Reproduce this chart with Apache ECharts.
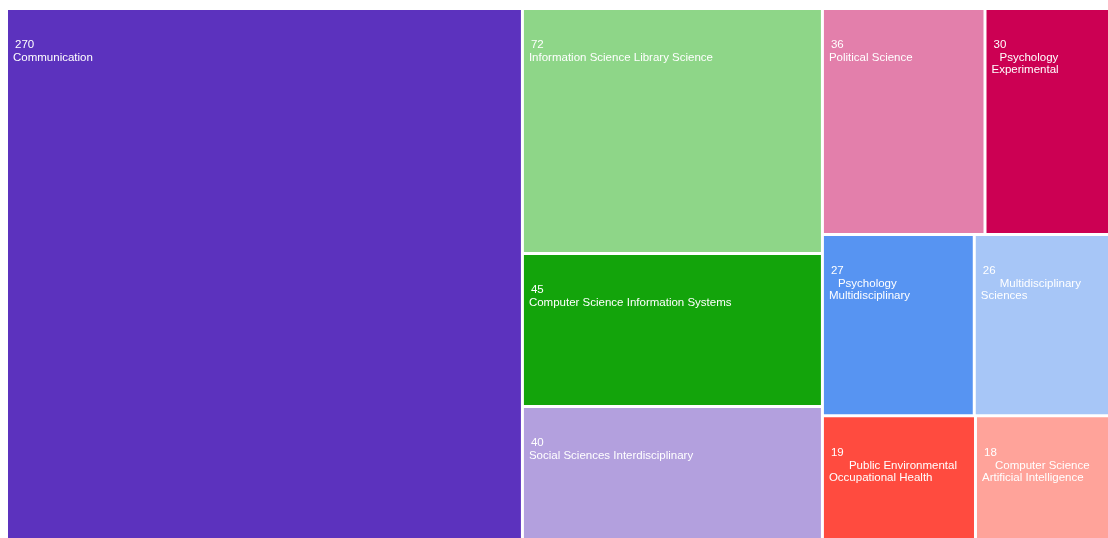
<!DOCTYPE html>
<html><head><meta charset="utf-8">
<script src="https://cdn.jsdelivr.net/npm/echarts@6/dist/echarts.min.js"></script>
<style>html,body{margin:0;padding:0;background:#fff;}#c{width:1108px;height:538px;}</style>
</head><body><div id="c"></div>
<script>
const categories = ["Communication","Information Science Library Science","Computer Science Information Systems","Social Sciences Interdisciplinary","Political Science","Psychology Experimental","Psychology Multidisciplinary","Multidisciplinary Sciences","Public Environmental Occupational Health","Computer Science Artificial Intelligence"];
const values = [270,72,45,40,36,30,27,26,19,18];
const nameLines = [["Communication"],["Information Science Library Science"],["Computer Science Information Systems"],["Social Sciences Interdisciplinary"],["Political Science"],["Psychology","Experimental"],["Psychology","Multidisciplinary"],["Multidisciplinary","Sciences"],["Public Environmental","Occupational Health"],["Computer Science","Artificial Intelligence"]];

const colors = ["#5c32be","#8ed688","#13a40b","#b3a0de","#e37fab","#cc0053","#5794f2","#a7c6f7","#ff4b3f","#ffa39a"];
const indents = [0,0,0,0,0,8,9,19,20,13];
const FONT = 'Liberation Sans, Arial, Helvetica, sans-serif';

const data = categories.map((c,i)=>{
  const lines = nameLines[i];
  let fmt = '{v|' + values[i] + '}';
  lines.forEach((l,j)=>{ fmt += '\n{' + (j===0 && lines.length>1 ? 'f'+i : 'n') + '|' + l + '}'; });
  const rich = {v:{color:'#fff',fontSize:11.5,fontFamily:FONT,lineHeight:14,padding:[0,0,0,2]},
                n:{color:'#fff',fontSize:11.5,fontFamily:FONT,lineHeight:12}};
  rich['f'+i] = {color:'#fff',fontSize:11.5,fontFamily:FONT,lineHeight:12,padding:[0,0,0,indents[i]]};
  return {name:c, value:values[i], itemStyle:{color:colors[i]},
    label:{formatter:fmt, rich:rich}};
});

const chart = echarts.init(document.getElementById('c'), null, {renderer:'canvas'});
chart.setOption({
  animation:false,
  series:[{
    type:'treemap',
    left:8, top:10, width:1111, height:531,
    roam:false, nodeClick:false,
    breadcrumb:{show:false},
    itemStyle:{gapWidth:3, borderWidth:0, borderColor:'#fff'},
    label:{show:true, position:[0,23], color:'#fff', fontSize:11.5, fontFamily:FONT},
    upperLabel:{show:false},
    data:data
  }]
});
</script></body></html>
